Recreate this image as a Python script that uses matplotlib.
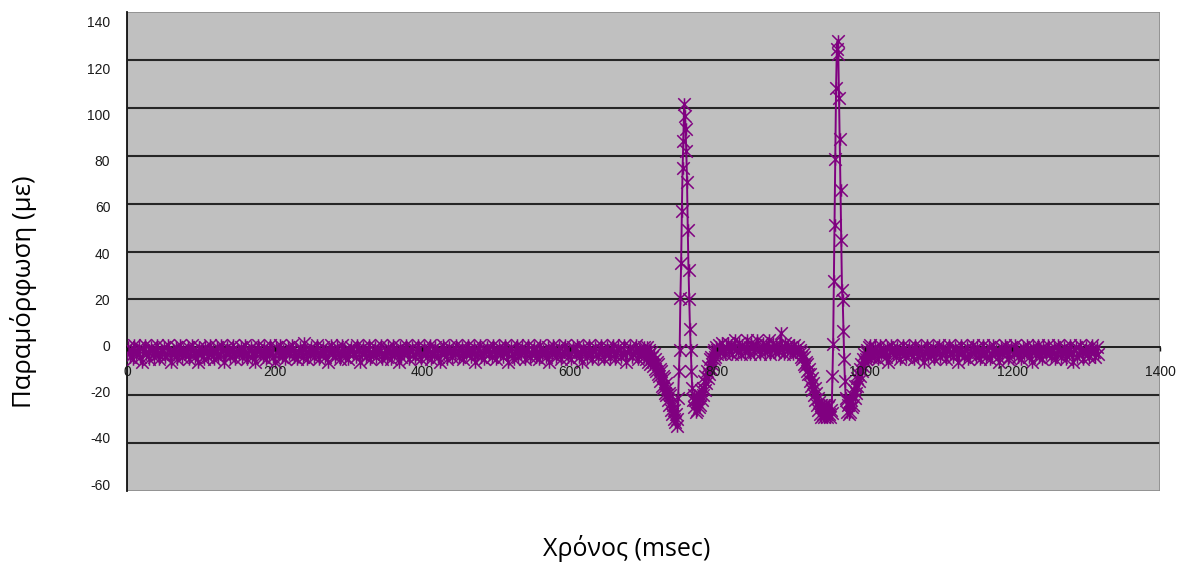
import numpy as np
import matplotlib
matplotlib.use("Agg")
import matplotlib.pyplot as plt
from matplotlib.path import Path
from matplotlib.patches import Rectangle

# strain (microstrain), one list per stretch of the record
base1 = [  # 0 .. 698 ms, every 2 ms
    -2, 0, -4, -1, -5, 1, -3, -2, 0, -4, -6, -1, 1, -3, -2, -5, 0, -1, -4, -2, 1, -3, -5, -1, -2,
    0, -4, -3, 1, -2, -6, -1, -3, 0, -5, -2, 1, -4, -1, -3, -2, 0, -5, -3, 1, -1, -4, -2, -6, 0,
    -3, -1, -5, 0, -2, -4, 1, -3, -1, -5, -2, 0, -4, -3, 1, -1, -6, -2, 0, -3, -4, -1, 1, -5, -2,
    -1, -3, 0, -4, -2, 1, -5, -3, -1, 0, -4, -2, -6, -1, 1, -3, -2, -4, 0, -5, -1, -3, 1, -2, -4,
    -6, 0, -2, -3, 1, -4, -1, -5, -2, 0, -3, -1, 1, -4, -2, -5, -3, 0, -1, -4, 2, -2, -5, -1, -3,
    0, -2, -4, -1, 1, -5, -3, -2, 0, -4, -1, -6, -2, 1, -3, -1, -4, 0, -2, -5, -3, 1, -1, -4, -2,
    -5, -1, 0, -3, -2, -4, 1, -1, -6, -3, 0, -2, -4, -1, 1, -5, -2, -3, 0, -4, -1, -2, 1, -5, -3,
    -1, -4, 0, -2, -5, 1, -3, -1, -2, -6, 0, -4, -1, -3, 1, -2, -5, -1, 0, -3, -4, -2, 1, -1, -5,
    -3, 0, -2, -4, -1, 1, -5, -2, -3, 0, -1, -4, -6, -2, 1, -3, -1, -5, 0, -2, -4, -1, -3, 1, -2,
    -4, -1, 0, -5, -2, -3, 1, -1, -4, -2, 0, -6, -3, -1, 1, -4, -2, -5, -1, 0, -3, -2, -4, 1, -1,
    -5, -2, 0, -3, -1, -4, 1, -2, -6, -1, 0, -3, -5, -2, 1, -4, -1, -3, 0, -2, -5, -1, 1, -4, -3,
    -1, 0, -4, -2, -5, 1, -3, -1, -2, -4, 0, -6, -1, -3, 1, -2, -4, -1, 0, -5, -3, -2, 1, -1, -4,
    -2, -5, 0, -1, -3, 1, -4, -2, -6, 0, -1, -3, -4, 1, -2, -5, -1, 0, -3, -4, -2, 1, -1, -5, -3,
    0, -2, -4, -1, 1, -3, -5, -2, 0, -1, -4, -3, 1, -6, -2, -1, 0, -4, -3, -2, 1, -5, -1, -3, -2,
]
dip1 = [  # 700 .. 746 ms, every 1 ms
    0, -4, -1, -5, -2, 0, -6, -3, -1, -7,
    -2, -6, -4, -8, -3, -9, -5, -10, -6, -11,
    -7, -12, -9, -14, -10, -16, -12, -17, -13, -19,
    -15, -20, -17, -22, -19, -24, -20, -26, -23, -28,
    -24, -30, -26, -31, -28, -33, -30,
]
spike1 = [  # 747 .. 767 ms
    -21, -10, -1, 20.6, 35, 57, 75, 86, 101.5, 96.7,
    91, 82, 69, 49, 32.4, 20, 7.5, -1, -10, -17, -22,
]
trough2 = [  # 768 .. 800 ms
    -20, -25, -22, -27, -23, -26, -21, -25, -20, -24,
    -18, -22, -17, -20, -14, -18, -12, -15, -10, -13,
    -8, -11, -5, -9, -4, -7, -2, -5, -1, -4,
    0, -3, -1,
]
hump = [  # 802 .. 910 ms, every 2 ms
    1, -2, 2, -1, -3, 0, 2, -2, 1, -3,
    0, 3, -1, -2, 2, -3, 1, 0, -2, 3,
    -1, -3, 2, 0, -2, 1, 3, -1, -3, 0,
    2, -2, 1, -1, 3, -3, 0, 2, -2, 1,
    -1, -2, 6, 0, -3, 2, -1, 1, -2, 0,
    -3, 1, -1, -2, 0,
]
dip2 = [  # 912 .. 954 ms
    -1, -4, -2, -5, -3, -7, -4, -8, -6, -10,
    -7, -11, -9, -14, -11, -16, -13, -18, -15, -20,
    -17, -22, -19, -24, -21, -26, -23, -28, -24, -29,
    -25, -28, -24, -29, -26, -28, -24, -29, -25, -28,
    -24, -29, -26,
]
spike2 = [  # 955 .. 974 ms
    -27.5, -12, 1.2, 27.5, 51, 78.7, 108.4, 124.4, 127.8, 122.3,
    104.3, 87, 65.6, 44.8, 24.1, 19.9, 6.8, -5, -14, -21,
]
trough3 = [  # 975 .. 1009 ms
    -22, -27, -24, -28, -23, -27, -22, -25, -20, -24,
    -18, -21, -16, -19, -13, -16, -11, -14, -9, -12,
    -7, -10, -5, -8, -3, -6, -2, -5, -1, -4,
    0, -3, 1, -2, -4,
]
base2 = [  # 1010 .. 1316 ms, every 2 ms
    -1, -4, 0, -2, -5, 1, -3, -1, -2, -4, 0, -6, -2, 1, -3, -1, -4, 0, -2, -5, -1, 1, -3, -4, -2,
    0, -3, -1, -5, 1, -2, -4, -1, 0, -3, -6, -2, 1, -4, -1, -3, 0, -5, -2, -1, 1, -4, -3, 0, -2,
    -5, -1, 1, -3, -2, -4, 0, -1, -6, -3, 1, -2, -4, -1, 0, -5, -3, -2, 1, -1, -4, 0, -2, -5, -3,
    1, -2, -4, -1, 0, -5, -3, 1, -2, -1, -4, -6, 0, -3, -1, 1, -2, -5, -4, 0, -1, -3, 1, -2, -4,
    -1, -5, 0, -3, -2, 1, -4, -1, -6, 0, -2, -3, 1, -4, -1, -5, 0, -2, -3, 1, -1, -4, -2, 0, -5,
    -3, 1, -1, -4, -2, 0, -5, -1, -3, 1, -2, -6, -1, 0, -4, -3, 1, -2, -5, -1, 0, -3, -4, -1, 1,
    -2, -4, 0, -3,
]

# (values, first sample time in msec, sample step in msec)
segments = [
    (base1, 0, 2), (dip1, 700, 1), (spike1, 747, 1), (trough2, 768, 1),
    (hump, 802, 2), (dip2, 912, 1), (spike2, 955, 1), (trough3, 975, 1),
    (base2, 1010, 2),
]
time_ms = np.concatenate([t0 + dt * np.arange(len(v)) for v, t0, dt in segments])
strain = np.concatenate([np.asarray(v, float) for v, _, _ in segments])

x_ticks = [0, 200, 400, 600, 800, 1000, 1200, 1400]
y_ticks = [-60, -40, -20, 0, 20, 40, 60, 80, 100, 120, 140]

W, H = 1181, 562
fig = plt.figure(figsize=(W / 100, H / 100), dpi=100)
rect = [127 / W, 1 - 491 / H, (1160 - 127) / W, (491 - 12) / H]
ax = fig.add_axes(rect)
ax.set_facecolor('#c0c0c0')
ax.set_xlim(0, 1400)
ax.set_ylim(-60, 140)

# excel-like star marker: an x with a vertical bar
star = Path([(0, -1), (0, 1), (-1, -1), (1, 1), (-1, 1), (1, -1)],
            [Path.MOVETO, Path.LINETO] * 3)

ax.hlines([v for v in y_ticks if v not in (0, -60, 140)], 0, 1400,
          colors='#262626', linewidth=1.5, zorder=1)
ax.plot(time_ms, strain, color='#800080', linewidth=1.4, marker=star,
        markersize=9, markeredgewidth=1.1, markerfacecolor='none', zorder=2)

for s in ['top', 'right']:
    ax.spines[s].set_visible(False)
ax.add_patch(Rectangle((0, 0), 1, 1, transform=ax.transAxes, fill=False,
                       edgecolor='#8c8c8c', linewidth=1.2, zorder=1.2))
ax.spines['bottom'].set_position(('data', 0))
ax.spines['bottom'].set_color('#111111')
ax.spines['bottom'].set_linewidth(1.3)
ax.spines['bottom'].set_zorder(1.5)
ax.spines['left'].set_color('#111111')
ax.spines['left'].set_linewidth(1.3)
ax.spines['left'].set_zorder(1.5)

ax.set_axisbelow(False)
ax.set_xticks(x_ticks)
ax.set_xticklabels([str(v) for v in x_ticks])
ax.tick_params(axis='x', direction='out', length=3, width=1, pad=10,
               labelsize=10, labelcolor='#1a1a1a', colors='#111111')
ax.set_yticks([])

# y tick labels sit on a slightly different scale than the grid in the source
ax_lab = fig.add_axes(rect, frameon=False)
ax_lab.patch.set_visible(False)
ax_lab.set_xticks([])
ax_lab.set_ylim(-63.0, 144.3)
ax_lab.set_yticks(y_ticks)
ax_lab.set_yticklabels([str(v) for v in y_ticks])
ax_lab.tick_params(axis='y', length=0, pad=12, labelsize=10,
                   labelcolor='#1a1a1a')
for lab in ax_lab.get_yticklabels():
    lab.set_fontfamily('Liberation Sans')
for lab in ax.get_xticklabels():
    lab.set_fontfamily('Liberation Sans')

fig.text(24 / W, 1 - 292 / H, 'Παραμόρφωση (με)', rotation=90,
         ha='center', va='center', fontsize=18.5, family='Open Sans')
fig.text(627 / W, 1 - 548 / H, 'Χρόνος (msec)', ha='center', va='center',
         fontsize=18, family='Open Sans')

fig.savefig('out.png', dpi=100)
